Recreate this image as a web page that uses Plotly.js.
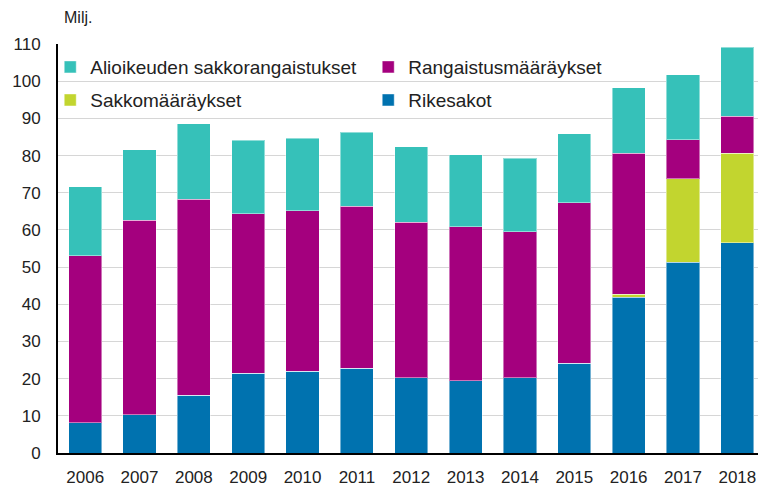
<!DOCTYPE html>
<html>
<head>
<meta charset="utf-8">
<script src="https://cdn.plot.ly/plotly-3.0.1.min.js"></script>
<style>html,body{margin:0;padding:0;background:#fff;}#chart{width:761px;height:486px;}</style>
</head>
<body>
<div id="chart"></div>
<script>
const years = ["2006","2007","2008","2009","2010","2011","2012","2013","2014","2015","2016","2017","2018"];
const rikesakot = [8.2,10.3,15.6,21.5,22.0,22.8,20.3,19.4,20.3,24.1,41.9,51.3,56.6];
const sakkomaaraykset = [0,0,0,0,0,0,0,0,0,0,0.8,22.5,24.0];
const rangaistusmaaraykset = [44.9,52.3,52.6,42.8,43.2,43.6,41.8,41.4,39.2,43.2,37.9,10.4,10.0];
const alioikeuden = [18.5,18.9,20.3,19.8,19.4,19.8,20.3,19.4,19.8,18.6,17.7,17.5,18.5];
const names = ["Rikesakot","Sakkomääräykset","Rangaistusmääräykset","Alioikeuden sakkorangaistukset"];
const colors = ["#0072AF","#C2D52F","#A4007E","#36C1B9"];
const seriesList = [rikesakot, sakkomaaraykset, rangaistusmaaraykset, alioikeuden];
const legendOf = ["legend2","legend2","legend","legend"];
const rankOf = [2,1,2,1];

const traces = seriesList.map((vals, i) => ({
  type: "bar",
  x: years,
  y: vals,
  name: names[i],
  legend: legendOf[i],
  legendrank: rankOf[i],
  marker: {color: colors[i], line: {color: "rgba(255,255,255,0.45)", width: 1}},
  hoverinfo: "x+y+name"
}));

const font = {family: "Liberation Sans, Arial, sans-serif", size: 17, color: "#222"};
const legendCommon = {
  orientation: "h", xref: "container", yref: "container",
  xanchor: "left", yanchor: "middle",
  entrywidth: 273, entrywidthmode: "pixels",
  bgcolor: "rgba(0,0,0,0)", font: {family: font.family, size: 19, color: "#222"},
  traceorder: "normal", itemclick: false
};

const layout = {
  width: 761, height: 486,
  margin: {l: 58, r: 3, t: 44, b: 33, autoexpand: false},
  paper_bgcolor: "#fff", plot_bgcolor: "#fff",
  font: font,
  barmode: "stack",
  bargap: 0.39,
  showlegend: true,
  legend: Object.assign({}, legendCommon, {x: 0.066, y: 0.862}),
  legend2: Object.assign({}, legendCommon, {x: 0.066, y: 0.794}),
  xaxis: {
    type: "category", range: [-0.5, 12.38],
    showgrid: false, showline: true, linecolor: "#000", linewidth: 2,
    ticks: "", ticklabelstandoff: 8, tickfont: font, fixedrange: true
  },
  yaxis: {
    range: [0, 110], dtick: 10, tick0: 0,
    showgrid: true, gridcolor: "#d6d6d6", gridwidth: 1,
    showline: true, linecolor: "#000", linewidth: 2,
    zeroline: false, ticks: "", ticklabelstandoff: 12, tickfont: font, fixedrange: true
  },
  annotations: [{
    text: "Milj.", xref: "paper", yref: "paper", x: 0.005, y: 1.065,
    xanchor: "left", yanchor: "middle", showarrow: false,
    font: {family: font.family, size: 16, color: "#222"}
  }]
};

Plotly.newPlot("chart", traces, layout, {displayModeBar: false, staticPlot: true});
</script>
</body>
</html>
